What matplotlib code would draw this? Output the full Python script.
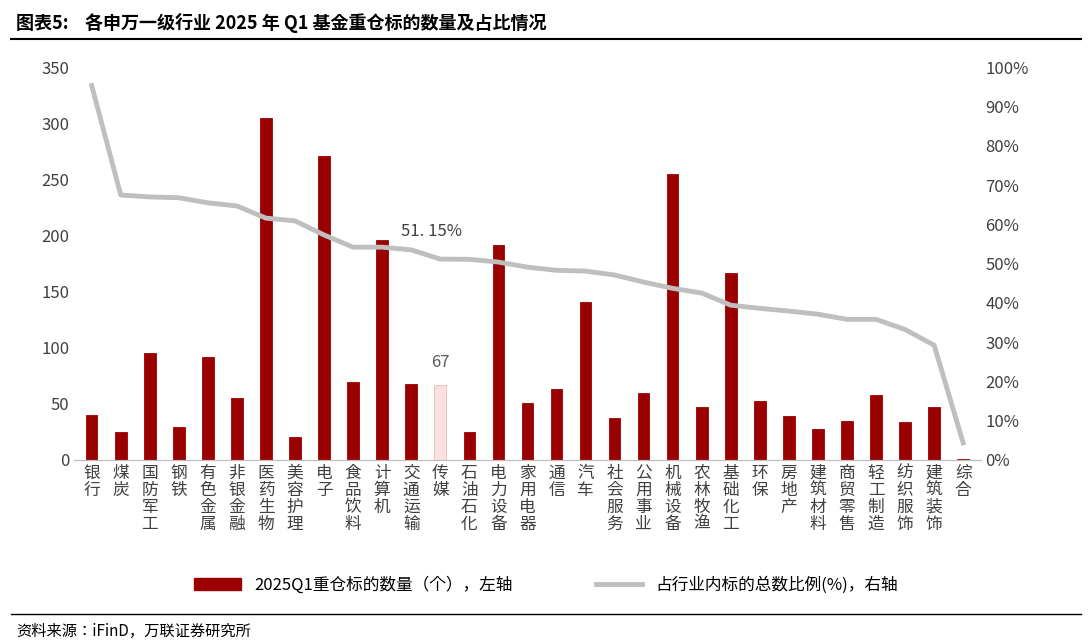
import matplotlib.pyplot as plt
from matplotlib.ticker import PercentFormatter
from matplotlib.patches import Patch
from matplotlib.lines import Line2D

plt.rcParams["font.family"] = ["Noto Sans CJK SC", "Noto Sans CJK JP", "Noto Sans CJK TC", "DejaVu Sans"]

industries = ["银行", "煤炭", "国防军工", "钢铁", "有色金属", "非银金融", "医药生物", "美容护理",
              "电子", "食品饮料", "计算机", "交通运输", "传媒", "石油石化", "电力设备", "家用电器",
              "通信", "汽车", "社会服务", "公用事业", "机械设备", "农林牧渔", "基础化工", "环保",
              "房地产", "建筑材料", "商贸零售", "轻工制造", "纺织服饰", "建筑装饰", "综合"]
counts = [40, 25, 95, 29, 92, 55, 305, 20, 271, 69, 196, 68, 67, 25, 192, 51,
          63, 141, 37, 60, 255, 47, 167, 52, 39, 27, 35, 58, 34, 47, 1]
ratios = [95.4, 67.5, 67.0, 66.8, 65.5, 64.7, 61.6, 60.9, 57.3, 54.2, 54.2, 53.5, 51.15, 51.1,
          50.4, 49.1, 48.3, 48.1, 47.1, 45.3, 43.7, 42.5, 39.4, 38.6, 37.9, 37.1, 35.8, 35.8,
          33.2, 29.2, 4.3]
highlight = "传媒"

fig = plt.figure(figsize=(10.92, 6.43), dpi=100)
ax = fig.add_axes([0.068, 0.285, 0.83, 0.61])
ax2 = ax.twinx()

x = range(len(industries))
colors = ["#fbe0e0" if n == highlight else "#9b0000" for n in industries]
edges = ["#f0b8b8" if n == highlight else "#9b0000" for n in industries]
ax.bar(x, counts, width=0.4, color=colors, edgecolor=edges, linewidth=0.6, zorder=2)
ax2.plot(x, ratios, color="#bfbfbf", lw=3.5, zorder=3)

hi = industries.index(highlight)
ax.text(hi, counts[hi] + 12, str(counts[hi]), ha="center", va="bottom", fontsize=12, color="#595959")
ax2.text(hi - 0.3, ratios[hi] + 5, f"{ratios[hi]:.2f}%".replace(".", ". "), ha="center",
         va="bottom", fontsize=12, color="#404040")

ax.set_ylim(0, 350)
ax.set_yticks(range(0, 351, 50))
ax2.set_ylim(0, 100)
ax2.set_yticks(range(0, 101, 10))
ax2.yaxis.set_major_formatter(PercentFormatter(decimals=0))
ax.set_xlim(-0.6, len(industries) - 0.4)
ax.set_xticks(list(x))
ax.set_xticklabels(["\n".join(n) for n in industries], fontsize=12, va="top", linespacing=1.0)

for a in (ax, ax2):
    for s in ["top", "left", "right"]:
        a.spines[s].set_visible(False)
    a.spines["bottom"].set_color("#bfbfbf")
    a.tick_params(length=0, labelsize=12, colors="#404040")

handles = [Patch(color="#9b0000"), Line2D([], [], color="#bfbfbf", lw=3.5)]
fig.legend(handles, ["2025Q1重仓标的数量（个），左轴", "占行业内标的总数比例(%)，右轴"],
           loc="center", bbox_to_anchor=(0.5, 0.09), ncol=2, frameon=False, fontsize=12,
           handlelength=2.8, columnspacing=5)

fig.text(0.015, 0.965, "图表5:    各申万一级行业 2025 年 Q1 基金重仓标的数量及占比情况", fontsize=13,
         va="center", fontweight="bold")
fig.add_artist(Line2D([0.01, 0.99], [0.94, 0.94], color="black", lw=1.5))
fig.add_artist(Line2D([0.01, 0.99], [0.045, 0.045], color="black", lw=1))
fig.text(0.015, 0.018, "资料来源：iFinD，万联证券研究所", fontsize=11, style="italic", va="center")

fig.savefig("out.png", dpi=100)
